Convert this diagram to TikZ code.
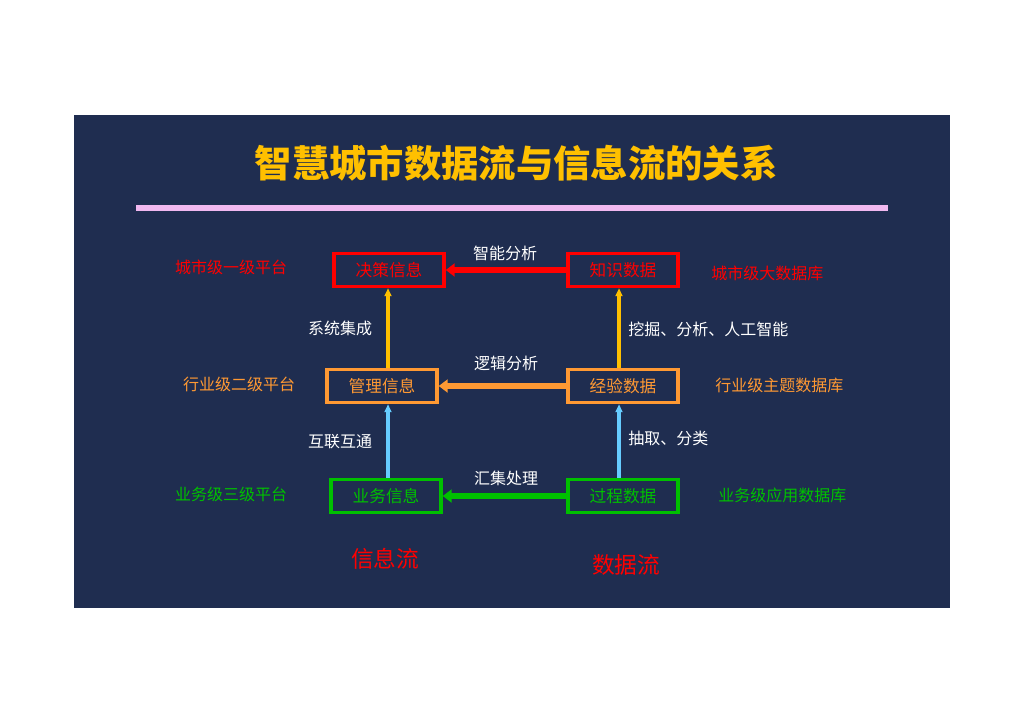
\documentclass[tikz,border=0pt]{standalone}
\usepackage{fontspec}
\newfontfamily\cjk{Noto Sans CJK SC}
\usetikzlibrary{arrows.meta}
\definecolor{bg}{HTML}{1F2D50}
\definecolor{gold}{HTML}{FFC000}
\definecolor{rd}{HTML}{FF0000}
\definecolor{org}{HTML}{FF9933}
\definecolor{grn}{HTML}{00C000}
\definecolor{sky}{HTML}{66CCFF}
\definecolor{pink}{HTML}{F0B8F0}
\tikzset{
 bx/.style={draw=#1,text=#1,line width=2.6pt,minimum width=82.5pt,minimum height=24.75pt,inner sep=0pt,font=\cjk\fontsize{12.5}{14}\selectfont},
 lb/.style={text=white,font=\cjk\fontsize{12}{14}\selectfont,inner sep=0pt},
 side/.style={text=#1,font=\cjk\fontsize{12}{14}\selectfont,inner sep=0pt},
 harr/.style={draw=#1,line width=5pt,-{Triangle[length=6.75pt,width=9.75pt]}},
 varr/.style={draw=#1,line width=2.4pt,-{Triangle[length=6pt,width=5.25pt]}},
}
\begin{document}
\begin{tikzpicture}[x=0.75pt,y=-0.75pt]
\useasboundingbox (0,0) rectangle (1024,724);
\fill[bg] (74,115) rectangle (950,608);
\node[text=gold,font=\cjk\bfseries\fontsize{28}{32}\selectfont] (title) at (516,163) {智慧城市数据流与信息流的关系};
\fill[pink] (136,205) rectangle (888,211);
\node[bx=rd] (jc) at (389,270) {决策信息};
\node[bx=rd] (zs) at (623,270) {知识数据};
\node[bx=org] (gl) at (382,386) {管理信息};
\node[bx=org] (jy) at (623,386) {经验数据};
\node[bx=grn] (yw) at (386,496) {业务信息};
\node[bx=grn] (gc) at (623,496) {过程数据};
\draw[harr=rd] (zs.west) -- (jc.east);
\draw[harr=org] (jy.west) -- (gl.east);
\draw[harr=grn] (gc.west) -- (yw.east);
\coordinate (a1) at ([xshift=4.5pt]gl.north);
\draw[varr=gold] (a1) -- (a1 |- jc.south);
\coordinate (a2) at ([xshift=-3pt]jy.north);
\draw[varr=gold] (a2) -- (a2 |- zs.south);
\coordinate (a3) at ([xshift=1.5pt]yw.north);
\draw[varr=sky] (a3) -- (a3 |- gl.south);
\coordinate (a4) at ([xshift=-3pt]gc.north);
\draw[varr=sky] (a4) -- (a4 |- jy.south);
\node[lb] (l1) at (505,253) {智能分析};
\node[lb] (l2) at (506,363) {逻辑分析};
\node[lb] (l3) at (506,478) {汇集处理};
\node[lb] (l4) at (340,328) {系统集成};
\node[lb] (l5) at (340,442) {互联互通};
\node[lb,anchor=west] (l6) at (628,329) {挖掘、分析、人工智能};
\node[lb,anchor=west] (l7) at (628,438) {抽取、分类};
\node[side=rd] (s1) at (231,267) {城市级一级平台};
\node[side=org] (s2) at (239,384) {行业级二级平台};
\node[side=grn] (s3) at (231,494) {业务级三级平台};
\node[side=rd,anchor=west] (s4) at (711,273) {城市级大数据库};
\node[side=org,anchor=west] (s5) at (715,385) {行业级主题数据库};
\node[side=grn,anchor=west] (s6) at (718,495) {业务级应用数据库};
\node[text=rd,font=\cjk\fontsize{17}{20}\selectfont] (f1) at (385,559) {信息流};
\node[text=rd,font=\cjk\fontsize{17}{20}\selectfont] (f2) at (626,565) {数据流};
\end{tikzpicture}
\end{document}
